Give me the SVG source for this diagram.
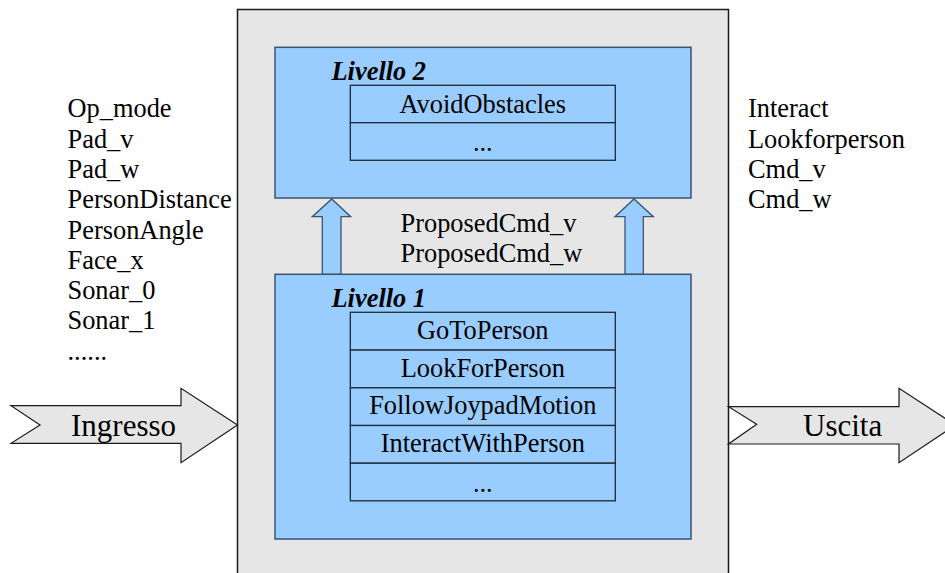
<svg xmlns="http://www.w3.org/2000/svg" width="945" height="573" viewBox="0 0 945 573">
  <style>
    .t { font-size: 26.4px; }
    .big { font-size: 31px; }
    .lvl { font-size: 26.4px; font-weight: bold; font-style: italic; }
    .c { text-anchor: middle; }
    .outer { fill: #e6e6e6; stroke: #1a1a1a; stroke-width: 1.5; }
    .layer { fill: #99ccff; stroke: #3b5570; stroke-width: 1.5; }
    .row { fill: #99ccff; stroke: #1c2a38; stroke-width: 1.3; }
    .flow { fill: #e6e6e6; stroke: #1a1a1a; stroke-width: 1.2; }
    .up { fill: #99ccff; stroke: #3b5570; stroke-width: 1.3; }
  </style>

  <rect width="945" height="573" fill="#ffffff"/>

  <g font-family="'Liberation Serif', 'Times New Roman', Times, 'DejaVu Serif', serif" fill="#000000">

  <!-- controller container -->
  <g id="controller">
    <rect class="outer" x="237.5" y="9.5" width="491" height="580"/>
  </g>

  <!-- input / output flows -->
  <g id="ingresso">
    <polygon class="flow" points="11,405.7 181,405.7 181,388.3 237.5,425 181,462.7 181,443.3 11,443.3 40,425"/>
    <text class="big" x="71" y="436">Ingresso</text>
  </g>
  <g id="uscita">
    <polygon class="flow" points="728.5,406.7 899,406.7 899,388.3 955.5,425 899,462.7 899,444 728.5,444 756.7,424.3"/>
    <text class="big" x="803" y="436">Uscita</text>
  </g>

  <!-- input signals -->
  <g id="inputs">
    <text class="t" x="67.5" y="117.3">Op_mode</text>
    <text class="t" x="67.5" y="147.6">Pad_v</text>
    <text class="t" x="67.5" y="177.9">Pad_w</text>
    <text class="t" x="67.5" y="208.2">PersonDistance</text>
    <text class="t" x="67.5" y="238.5">PersonAngle</text>
    <text class="t" x="67.5" y="268.8">Face_x</text>
    <text class="t" x="67.5" y="299.1">Sonar_0</text>
    <text class="t" x="67.5" y="329.4">Sonar_1</text>
    <text class="t" x="67.5" y="359.7">......</text>
  </g>

  <!-- output signals -->
  <g id="outputs">
    <text class="t" x="748" y="117.3">Interact</text>
    <text class="t" x="748" y="147.6">Lookforperson</text>
    <text class="t" x="748" y="177.9">Cmd_v</text>
    <text class="t" x="748" y="208.2">Cmd_w</text>
  </g>

  <!-- level 2 -->
  <g id="livello2">
    <rect class="layer" x="275" y="47.3" width="416" height="150.7"/>
    <text class="lvl" x="331.5" y="80">Livello 2</text>
    <rect class="row" x="350.3" y="85.3" width="265" height="37.4"/>
    <rect class="row" x="350.3" y="122.7" width="265" height="37.6"/>
    <text class="t c" x="482.8" y="112.7">AvoidObstacles</text>
    <text class="t c" x="482.8" y="150.7">...</text>
  </g>

  <!-- links from level 1 to level 2 -->
  <g id="connectors">
    <polygon class="up" points="322.3,274.3 322.3,216.7 312.3,216.7 331.7,199 350.7,216.7 341,216.7 341,274.3"/>
    <polygon class="up" points="625,274.3 625,216.7 615,216.7 634,199 653.3,216.7 643.3,216.7 643.3,274.3"/>
    <text class="t" x="400.5" y="231.7">ProposedCmd_v</text>
    <text class="t" x="400.5" y="261.7">ProposedCmd_w</text>
  </g>

  <!-- level 1 -->
  <g id="livello1">
    <rect class="layer" x="275" y="274.3" width="416" height="264.7"/>
    <text class="lvl" x="331.5" y="307">Livello 1</text>
    <rect class="row" x="350.3" y="312.3" width="265" height="37.8"/>
    <rect class="row" x="350.3" y="350.1" width="265" height="37.7"/>
    <rect class="row" x="350.3" y="387.8" width="265" height="37.7"/>
    <rect class="row" x="350.3" y="425.5" width="265" height="37.7"/>
    <rect class="row" x="350.3" y="463.2" width="265" height="37.6"/>
    <text class="t c" x="482.8" y="338.8">GoToPerson</text>
    <text class="t c" x="482.8" y="376.5">LookForPerson</text>
    <text class="t c" x="482.8" y="414.2">FollowJoypadMotion</text>
    <text class="t c" x="482.8" y="451.9">InteractWithPerson</text>
    <text class="t c" x="482.8" y="491.5">...</text>
  </g>

  </g>
</svg>
